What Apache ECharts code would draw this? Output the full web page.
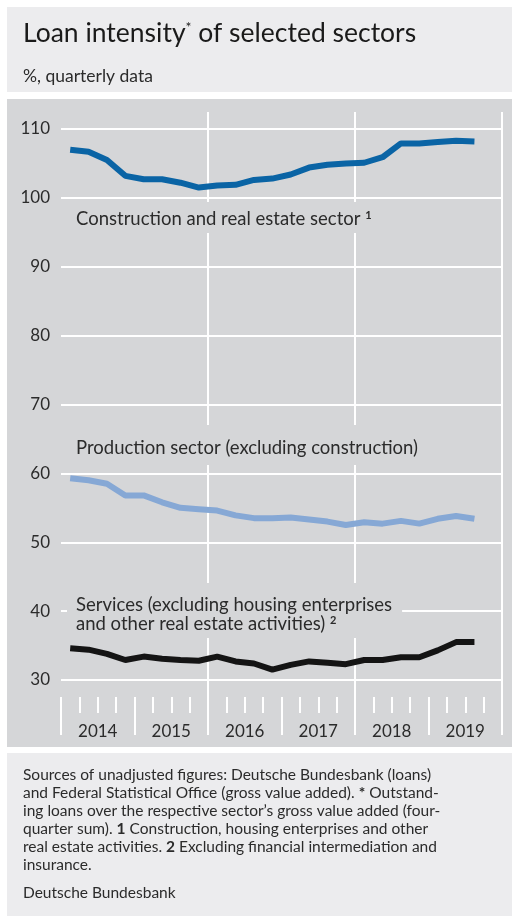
<!DOCTYPE html>
<html><head><meta charset="utf-8">
<script src="https://cdn.jsdelivr.net/npm/echarts@6/dist/echarts.min.js"></script>
<style>html,body{margin:0;padding:0;background:#fff}#c{width:512px;height:916px}</style>
</head><body><div id="c"></div><script>
const quarters = ['2014Q1','2014Q2','2014Q3','2014Q4','2015Q1','2015Q2','2015Q3','2015Q4',
  '2016Q1','2016Q2','2016Q3','2016Q4','2017Q1','2017Q2','2017Q3','2017Q4',
  '2018Q1','2018Q2','2018Q3','2018Q4','2019Q1','2019Q2','2019Q3','2019Q4'];
const years = ['2014','2015','2016','2017','2018','2019'];
const construction = [107.0,106.7,105.5,103.2,102.7,102.7,102.2,101.5,101.8,101.9,102.6,102.8,
  103.4,104.4,104.8,105.0,105.1,105.9,107.9,107.9,108.1,108.3,108.2];
const production = [59.3,59.0,58.5,56.8,56.8,55.8,55.0,54.8,54.6,53.9,53.5,53.5,
  53.6,53.3,53.0,52.5,52.9,52.7,53.1,52.7,53.4,53.8,53.4];
const services = [34.6,34.4,33.8,32.9,33.4,33.1,32.9,32.8,33.4,32.7,32.4,31.5,
  32.2,32.7,32.5,32.3,32.9,32.9,33.3,33.3,34.3,35.5,35.5];
const yTicks = {min:30, max:110, interval:10};

const FONT = 'Lato';
const PANEL = '#d5d6d8';
const LIGHT = '#ececee';
const TXT = '#2b2b2b';

const chart = echarts.init(document.getElementById('c'), null, {renderer:'canvas'});
const footLines = [
  'Sources of unadjusted figures: Deutsche Bundesbank (loans)',
  'and Federal Statistical Office (gross value added). {b|*} Outstand-',
  'ing loans over the respective sector\u2019s gross value added (four-',
  'quarter sum). {b|1} Construction, housing enterprises and other',
  'real estate activities. {b|2} Excluding financial intermediation and',
  'insurance.'
];
const sup = {fontSize:11, fontFamily:FONT, fontWeight:'bold', verticalAlign:'top', padding:[0,0,9,0], fill:TXT};
const graphics = [
  {type:'rect', shape:{x:7,y:7,width:505,height:85}, style:{fill:LIGHT}, z:-10},
  {type:'rect', shape:{x:7,y:99,width:505,height:648}, style:{fill:PANEL}, z:-10},
  {type:'rect', shape:{x:7,y:753,width:505,height:163}, style:{fill:LIGHT}, z:-10},
  {type:'text', left:23, top:20, z:5, style:{
    text:'Loan intensity{s|*} of selected sectors', fill:'#1a1a1a',
    font:'26.5px "'+FONT+'"', rich:{s:{fontSize:14, fontFamily:FONT, verticalAlign:'top', padding:[0,0,12,0], fill:'#1a1a1a'}}}},
  {type:'text', left:23, top:67, z:5, style:{text:'%, quarterly data', fill:TXT, font:'17.5px "'+FONT+'"'}},
  // series labels with panel-coloured backgrounds
  {type:'text', left:70, top:202, z:1, style:{
    text:'Construction and real estate sector {s|1}', fill:TXT, font:'18.5px "'+FONT+'"', lineHeight:19,
    backgroundColor:PANEL, padding:[8,8,4,6], rich:{s:sup}}},
  {type:'text', left:70, top:425, z:1, style:{
    text:'Production sector (excluding construction)', fill:TXT, font:'18.5px "'+FONT+'"', lineHeight:19,
    backgroundColor:PANEL, padding:[14,8,7,6]}},
  {type:'text', left:67, top:583, z:1, style:{
    text:'Services (excluding housing enterprises\nand other real estate activities) {s|2}', fill:TXT, font:'18.5px "'+FONT+'"',
    lineHeight:18.5, backgroundColor:PANEL, padding:[13,10,5,9], rich:{s:sup}}},
  {type:'text', left:23, top:766, z:5, style:{
    text:footLines.join('\n'), fill:TXT, font:'15.5px "'+FONT+'"', lineHeight:18,
    rich:{b:{fontWeight:'bold', fontSize:15.5, fontFamily:FONT, fill:TXT}}}},
  {type:'text', left:23, top:884, z:5, style:{text:'Deutsche Bundesbank', fill:TXT, font:'15.5px "'+FONT+'"', lineHeight:18}}
];

const option = {
  animation:false,
  backgroundColor:'#ffffff',
  textStyle:{fontFamily:FONT},
  graphic:graphics,
  grid:[
    {left:61, right:10, top:129, bottom:236, containLabel:false},
    {left:61, right:10, top:112, bottom:219, containLabel:false}
  ],
  xAxis:[
    {type:'category', gridIndex:0, data:quarters, boundaryGap:true, show:false},
    {type:'category', gridIndex:1, data:quarters, boundaryGap:true, position:'bottom',
      axisLine:{show:false}, axisLabel:{show:false},
      axisTick:{show:true, interval:0, length:16, lineStyle:{color:'#ffffff', width:2}},
      splitLine:{show:false}},
    {type:'category', gridIndex:1, data:years, boundaryGap:true, position:'bottom',
      axisLine:{show:false},
      axisTick:{show:true, interval:0, length:38, lineStyle:{color:'#ffffff', width:2}},
      axisLabel:{show:true, interval:0, margin:26, color:TXT, fontSize:17, fontFamily:FONT},
      splitLine:{show:true, interval:function(i){return i===2||i===4;}, lineStyle:{color:'#ffffff', width:2}}}
  ],
  yAxis:[
    {type:'value', gridIndex:0, min:yTicks.min, max:yTicks.max, interval:yTicks.interval,
      axisLine:{show:false}, axisTick:{show:false},
      axisLabel:{margin:11, color:TXT, fontSize:17, fontFamily:FONT},
      splitLine:{show:true, lineStyle:{color:'#ffffff', width:2}}},
    {type:'value', gridIndex:1, show:false, splitLine:{show:false}}
  ],
  series:[
    {name:'Construction and real estate sector', type:'line', xAxisIndex:0, yAxisIndex:0,
      data:construction, showSymbol:false, lineStyle:{color:'#0a64a5', width:6}, z:3},
    {name:'Production sector (excluding construction)', type:'line', xAxisIndex:0, yAxisIndex:0,
      data:production, showSymbol:false, lineStyle:{color:'#86a8d5', width:6}, z:3},
    {name:'Services', type:'line', xAxisIndex:0, yAxisIndex:0,
      data:services, showSymbol:false, lineStyle:{color:'#141414', width:6}, z:3}
  ]
};
chart.setOption(option);
</script></body></html>
